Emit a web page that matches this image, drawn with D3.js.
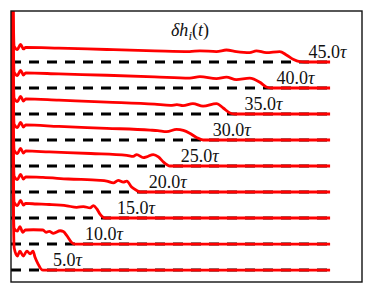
<!DOCTYPE html>
<html>
<head>
  <meta charset="utf-8">
  <script src="https://d3js.org/d3.v7.min.js"></script>
  <style>
    body { margin: 0; background: #fff; }
    text { font-family: "Liberation Serif", "DejaVu Serif", serif; fill: #111; }
  </style>
</head>
<body>
  <svg id="grafico"></svg>

  <script>
    // tiempos de cada perfil y su etiqueta
    const tiempos = [5, 10, 15, 20, 25, 30, 35, 40, 45];
    const etiquetas = ["5.0", "10.0", "15.0", "20.0", "25.0", "30.0", "35.0", "40.0", "45.0"];
    // desplazamiento vertical de cada perfil
    const niveles = [1, 2, 3, 4, 5, 6, 7, 8, 9];

    // perfiles delta h_i(t): pares [i, dh]
    const p5 = [[0,12],[1,0.85],[2,0.54],[2.8,0.73],[3.8,0.54],[5,0.73],[6,0.62],[6.9,0.73],[7.5,0.5],[8.5,0.23],[9.7,0.01],[10.5,0],[100,0]];
    const p10 = [[0,12],[1,0.6],[2,0.5],[2.8,0.67],[3.7,0.45],[4.5,0.54],[7,0.55],[10,0.54],[11,0.45],[12,0.49],[13.3,0.41],[15.4,0.51],[16.4,0.48],[17.5,0.32],[19,0.06],[20,0],[100,0]];
    const p15 = [[0,12],[1,0.6],[2,0.48],[3,0.68],[3.9,0.5],[4.6,0.56],[8,0.54],[12,0.52],[17.5,0.47],[20.6,0.41],[22.7,0.44],[24.8,0.39],[25.8,0.48],[26.9,0.35],[27.9,0.15],[29.5,0],[100,0]];
    const p20 = [[0,12],[1,0.6],[2,0.48],[3,0.68],[3.9,0.5],[4.6,0.58],[10,0.56],[18,0.5],[27.9,0.45],[30,0.42],[32.1,0.35],[33.6,0.45],[35.2,0.38],[36.3,0.42],[37.8,0.19],[39.4,0.06],[40.4,0],[100,0]];
    const p25 = [[0,12],[1,0.6],[2,0.48],[3,0.68],[3.9,0.5],[4.6,0.58],[12,0.54],[25,0.48],[36.3,0.41],[38.3,0.37],[39.4,0.44],[41.5,0.32],[42.5,0.35],[44.6,0.44],[46.2,0.35],[47.8,0.15],[49.8,0],[100,0]];
    const p30 = [[0,12],[1,0.6],[2,0.48],[3,0.68],[3.9,0.5],[4.6,0.58],[15,0.52],[30,0.45],[43.6,0.38],[46,0.36],[48.8,0.32],[51.9,0.41],[54,0.37],[56,0.26],[58.1,0.1],[60.2,0],[100,0]];
    const p35 = [[0,12],[1,0.6],[2,0.48],[3,0.68],[3.9,0.5],[4.6,0.58],[15,0.53],[30,0.46],[45,0.38],[50,0.33],[52,0.36],[53.9,0.32],[57,0.4],[60.2,0.3],[64.4,0.4],[66.5,0.23],[68.6,0.04],[70.1,0],[100,0]];
    const p40 = [[0,12],[1,0.6],[2,0.48],[3,0.68],[3.9,0.5],[4.6,0.58],[15,0.54],[30,0.49],[45,0.43],[56,0.38],[59.2,0.44],[64.4,0.36],[67.5,0.42],[70.6,0.32],[74.8,0.38],[78,0.22],[80,0.04],[81.6,0],[100,0]];
    const p45 = [[0,12],[1,0.6],[2,0.48],[3,0.68],[3.9,0.5],[4.6,0.56],[15,0.53],[30,0.48],[45,0.43],[56,0.4],[59.2,0.43],[64.4,0.4],[67.5,0.46],[70.6,0.4],[74.8,0.36],[76.9,0.43],[80,0.36],[84.2,0.4],[86.3,0.27],[88.4,0.1],[90.5,0.01],[92,0],[100,0]];
    const perfiles = [p5, p10, p15, p20, p25, p30, p35, p40, p45];

    const ancho = 373, alto = 294;
    const izq = 11, der = 362, arriba = 11, abajo = 282;

    const svg = d3.select("#grafico")
      .attr("width", ancho)
      .attr("height", alto);

    const x = d3.scaleLinear().domain([0, 110]).range([izq, der]);
    const y = d3.scaleLinear().domain([0.54, 10.96]).range([abajo, arriba]);

    svg.append("clipPath").attr("id", "recorte")
      .append("rect")
      .attr("x", izq).attr("y", arriba)
      .attr("width", der - izq).attr("height", abajo - arriba);

    const zona = svg.append("g").attr("clip-path", "url(#recorte)");

    // lineas base discontinuas
    zona.selectAll(".base")
      .data(niveles)
      .enter()
      .append("line")
      .attr("class", "base")
      .attr("x1", x(0)).attr("x2", x(100))
      .attr("y1", d => y(d)).attr("y2", d => y(d))
      .style("stroke", "#000")
      .style("stroke-width", 3)
      .style("stroke-dasharray", "10,8");

    const linea = d3.line().curve(d3.curveMonotoneX);

    zona.selectAll(".perfil")
      .data(perfiles)
      .enter()
      .append("path")
      .attr("class", "perfil")
      .attr("d", (d, k) => linea(d.map(p => [x(p[0]), y(niveles[k] + p[1])])))
      .style("fill", "none")
      .style("stroke", "#ff0000")
      .style("stroke-width", 2.8)
      .style("stroke-linejoin", "round");

    // etiquetas de tiempo
    const txt = svg.selectAll(".etiqueta")
      .data(tiempos)
      .enter()
      .append("text")
      .attr("class", "etiqueta")
      .attr("x", t => x(2 * t + 3.2))
      .attr("y", (t, k) => y(niveles[k]) - 4)
      .style("font-size", "18px");
    txt.append("tspan").text((t, k) => etiquetas[k]);
    txt.append("tspan").style("font-style", "italic").text("τ");

    // titulo
    const titulo = svg.append("text")
      .attr("x", 171).attr("y", 36)
      .style("font-size", "18px");
    titulo.append("tspan").style("font-style", "italic").text("δh");
    titulo.append("tspan").style("font-style", "italic").style("font-size", "13px").attr("dy", 4).text("i");
    titulo.append("tspan").attr("dy", -4).text("(");
    titulo.append("tspan").style("font-style", "italic").text("t");
    titulo.append("tspan").text(")");

    // marco
    svg.append("rect")
      .attr("x", izq).attr("y", arriba)
      .attr("width", der - izq).attr("height", abajo - arriba)
      .style("fill", "none")
      .style("stroke", "#111")
      .style("stroke-width", 1.4);
  </script>
</body>
</html>
